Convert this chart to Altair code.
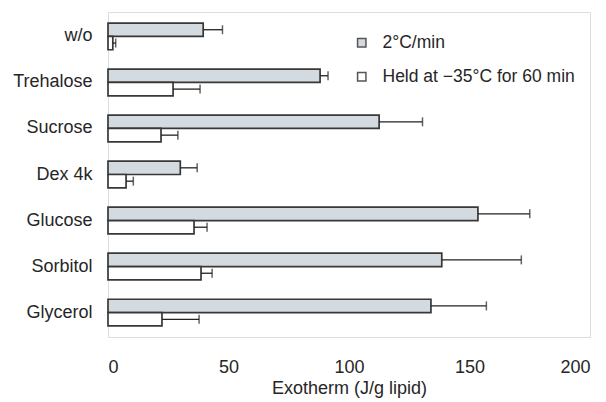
import altair as alt
import pandas as pd

categories = ["w/o", "Trehalose", "Sucrose", "Dex 4k", "Glucose", "Sorbitol", "Glycerol"]
series_names = ["2°C/min", "Held at −35°C for 60 min"]

rate_vals = [39.5, 88, 112.5, 30, 153.5, 138.5, 134]
rate_err = [8, 3.3, 18, 7, 21.5, 33, 23]
held_vals = [2, 27, 22, 7.5, 35.7, 38.6, 22.4]
held_err = [1.2, 11.2, 7, 3, 5.4, 4.6, 15.4]

x_ticks = [0, 50, 100, 150, 200]

rows = []
for i, c in enumerate(categories):
    rows.append({"cat": c, "series": series_names[0], "value": rate_vals[i], "hi": rate_vals[i] + rate_err[i]})
    rows.append({"cat": c, "series": series_names[1], "value": held_vals[i], "hi": held_vals[i] + held_err[i]})
df = pd.DataFrame(rows)

FONT = "Liberation Sans"
TXT = "#262626"

y_enc = alt.Y(
    "cat:N",
    sort=categories,
    scale=alt.Scale(paddingInner=0.42, paddingOuter=0.24),
    axis=alt.Axis(title=None, ticks=False, domain=False, labelFontSize=18,
                  labelPadding=16, labelColor=TXT, labelFont=FONT),
)
yoff = alt.YOffset("series:N", sort=series_names, scale=alt.Scale(paddingInner=0, paddingOuter=0))

x_enc = alt.X(
    "value:Q",
    scale=alt.Scale(domain=[0, 200], nice=False),
    axis=alt.Axis(values=x_ticks, ticks=False, domain=False, grid=False,
                  labelFontSize=18, labelPadding=21, labelColor=TXT, labelFont=FONT,
                  title="Exotherm (J/g lipid)", titleFontSize=18, titleFontWeight="normal",
                  titleFont=FONT, titleColor=TXT, titlePadding=3),
)

base = alt.Chart(df)

bars = base.mark_bar(stroke="#383838", strokeWidth=1.7).encode(
    x=x_enc,
    y=y_enc,
    yOffset=yoff,
    fill=alt.Fill(
        "series:N",
        sort=series_names,
        scale=alt.Scale(domain=series_names, range=["#d3dbe0", "#ffffff"]),
        legend=alt.Legend(
            title=None, orient="none", legendX=245, legendY=22,
            symbolType="square", symbolSize=70, symbolStrokeColor="#555555",
            symbolStrokeWidth=1.5, labelFontSize=17.5, labelFont=FONT,
            labelColor=TXT, labelOffset=12, rowPadding=15, labelLimit=400,
            padding=0,
        ),
    ),
)

whisk = base.mark_rule(color="#222222", strokeWidth=1.3).encode(
    x="value:Q", x2="hi:Q", y=alt.Y("cat:N", sort=categories), yOffset=yoff
)
caps = base.mark_tick(orient="vertical", size=9, thickness=1.5, color="#222222").encode(
    x="hi:Q", y=alt.Y("cat:N", sort=categories), yOffset=yoff
)

chart = alt.layer(bars, whisk, caps).properties(
    width=482, height=325,
    autosize=alt.AutoSizeParams(type="none"),
    padding={"left": 108, "top": 12, "right": 16, "bottom": 65},
).configure_view(stroke="#222222", strokeWidth=1.5).configure(background="white")

chart.save("out.html", embed_options={"renderer": "svg", "actions": False})
